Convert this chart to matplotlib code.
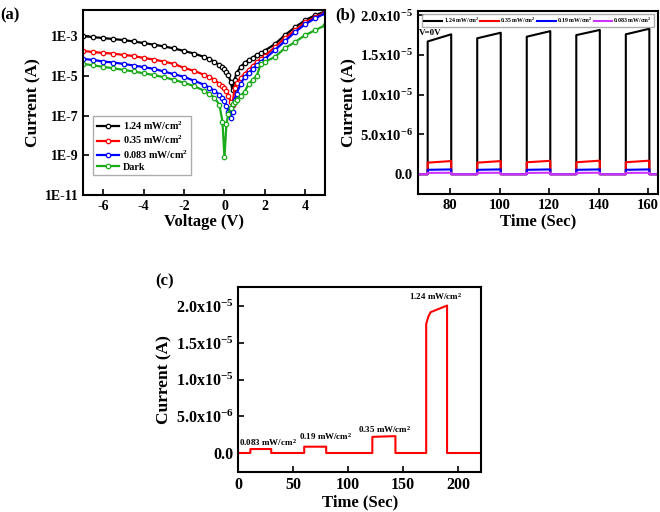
import numpy as np
import matplotlib
matplotlib.use("Agg")
import matplotlib.pyplot as plt

plt.rcParams['font.family'] = ['Liberation Serif', 'DejaVu Serif']
plt.rcParams['font.weight'] = 'bold'
plt.rcParams['axes.labelweight'] = 'bold'
plt.rcParams['axes.unicode_minus'] = False
plt.rcParams['mathtext.fontset'] = 'custom'
plt.rcParams['mathtext.rm'] = 'Liberation Serif:bold'
plt.rcParams['mathtext.bf'] = 'Liberation Serif:bold'
plt.rcParams['mathtext.default'] = 'bf'

# ---- (a) I-V curves, log10 of current ----
volt = [-7, -6.5, -6, -5.5, -5, -4.5, -4, -3.5, -3, -2.5, -2, -1.5, -1, -0.75, -0.5,
        -0.25, -0.1, 0, 0.1, 0.2, 0.3, 0.4, 0.5, 0.6, 0.8, 1.0, 1.2, 1.4, 1.6, 1.8,
        2.0, 2.5, 3.0, 3.5, 4.0, 4.5, 5.0]
log_i_124 = [-3.0, -3.05, -3.1, -3.15, -3.2, -3.27, -3.35, -3.43, -3.52, -3.62, -3.75,
             -3.88, -4.05, -4.15, -4.3, -4.45, -4.55, -4.65, -4.8, -4.95, -5.3, -5.7,
             -5.2, -4.85, -4.55, -4.35, -4.2, -4.08, -3.95, -3.85, -3.73, -3.4, -2.95,
             -2.55, -2.2, -1.95, -1.75]
log_i_035 = [-3.75, -3.8, -3.85, -3.88, -3.95, -4.0, -4.1, -4.18, -4.28, -4.4, -4.6,
             -4.75, -4.95, -5.05, -5.2, -5.4, -5.5, -5.6, -5.75, -6.0, -6.3, -6.45,
             -5.6, -5.35, -5.1, -4.9, -4.7, -4.5, -4.3, -4.15, -4.0, -3.55, -3.1,
             -2.7, -2.3, -2.05, -1.8]
log_i_0083 = [-4.15, -4.2, -4.28, -4.33, -4.4, -4.48, -4.56, -4.65, -4.78, -4.92, -5.05,
              -5.25, -5.45, -5.6, -5.75, -5.95, -6.1, -6.25, -6.5, -6.8, -7.1, -6.8,
              -6.2, -5.9, -5.4, -5.05, -4.85, -4.65, -4.45, -4.3, -4.15, -3.7, -3.25,
              -2.8, -2.4, -2.1, -1.85]
log_i_dark = [-4.4, -4.47, -4.55, -4.62, -4.7, -4.78, -4.87, -4.96, -5.07, -5.2, -5.35,
              -5.52, -5.75, -5.9, -6.1, -6.45, -7.3, -9.1, -7.4, -6.9, -6.6, -6.4,
              -6.3, -6.2, -6.0, -5.8, -5.4, -5.2, -5.0, -4.4, -4.3, -4.05, -3.6,
              -3.3, -2.95, -2.7, -2.45]
iv_labels = ["1.24 mW/cm$^2$", "0.35 mW/cm$^2$", "0.083 mW/cm$^2$", "Dark"]
iv_colors = ["black", "red", "blue", "#1aaa1a"]
a_yticks = [1e-11, 1e-9, 1e-7, 1e-5, 1e-3]
a_yticklabels = ["1E-11", "1E-9", "1E-7", "1E-5", "1E-3"]

# ---- (b) on/off cycles at V=0 ----
t_b = [67, 71, 71, 80.5, 80.5, 91, 91, 100.5, 100.5, 111, 111, 120.5, 120.5,
       131, 131, 140.5, 140.5, 151, 151, 160.5, 160.5, 164]
i_b_124 = [0, 0, 1.67e-5, 1.76e-5, 0, 0, 1.71e-5, 1.78e-5, 0, 0, 1.73e-5, 1.80e-5, 0,
           0, 1.75e-5, 1.815e-5, 0, 0, 1.76e-5, 1.83e-5, 0, 0]
i_b_035 = [0, 0, 1.45e-6, 1.65e-6, 0, 0, 1.45e-6, 1.65e-6, 0, 0, 1.5e-6, 1.68e-6, 0,
           0, 1.5e-6, 1.7e-6, 0, 0, 1.5e-6, 1.7e-6, 0, 0]
i_b_019 = [0, 0, 5.5e-7, 6.0e-7, 0, 0, 5.5e-7, 6.0e-7, 0, 0, 5.5e-7, 6.0e-7, 0,
           0, 5.5e-7, 6.0e-7, 0, 0, 5.5e-7, 6.0e-7, 0, 0]
i_b_0083 = [0, 0, 1.6e-7, 1.8e-7, 0, 0, 1.6e-7, 1.8e-7, 0, 0, 1.6e-7, 1.8e-7, 0,
            0, 1.6e-7, 1.8e-7, 0, 0, 1.6e-7, 1.8e-7, 0, 0]
b_labels = ["1.24 mW/cm$^2$", "0.35 mW/cm$^2$", "0.19 mW/cm$^2$", "0.083 mW/cm$^2$"]
b_colors = ["black", "red", "blue", "#cc33ff"]

# ---- (c) increasing intensity ----
t_c = [0, 11, 11, 30, 30, 60, 60, 80, 80, 122, 122, 143, 143, 171, 171, 173, 175,
       180, 190, 190, 220]
i_c = [0, 0, 5.4e-7, 5.4e-7, 0, 0, 8.6e-7, 8.6e-7, 0, 0, 2.2e-6, 2.3e-6, 0, 0,
       1.76e-5, 1.86e-5, 1.92e-5, 1.95e-5, 2.01e-5, 0, 0]
c_labels = ["0.083 mW/cm$^2$", "0.19 mW/cm$^2$", "0.35 mW/cm$^2$", "1.24 mW/cm$^2$"]
c_label_x = [1, 55.5, 133, 180]
c_label_y = [1.4e-6, 2.2e-6, 3.2e-6, 2.13e-5]

lin_ticks = [0, 5e-6, 1e-5, 1.5e-5, 2e-5]
lin_ticklabels = ["0.0", "5.0x10$^{-6}$", "1.0x10$^{-5}$", "1.5x10$^{-5}$", "2.0x10$^{-5}$"]

fig = plt.figure(figsize=(6.6, 5.12), dpi=100)


def style(ax, fs):
    for s in ax.spines.values():
        s.set_linewidth(1.5)
    ax.tick_params(direction='in', width=1.2, length=4, labelsize=fs)
    for lab in ax.get_xticklabels() + ax.get_yticklabels():
        lab.set_fontweight('bold')


# panel a
ax1 = fig.add_axes([0.126, 0.619, 0.367, 0.361])
curves = [log_i_124, log_i_035, log_i_0083, log_i_dark]
for logs, lab, col in zip(curves, iv_labels, iv_colors):
    ax1.plot(volt, 10 ** np.array(logs), '-o', color=col, lw=1.6, ms=3.2,
             mfc='white', mew=0.9, label=lab)
ax1.set_yscale('log')
ax1.set_xlim(-7, 5)
ax1.set_ylim(1e-11, 2e-2)
ax1.set_yticks(a_yticks)
ax1.set_yticklabels(a_yticklabels)
ax1.minorticks_off()
ax1.set_xticks([-6, -4, -2, 0, 2, 4])
ax1.set_xlabel("Voltage (V)", fontsize=12, labelpad=1)
ax1.set_ylabel("Current (A)", fontsize=12.5, labelpad=2)
style(ax1, 10)
ax1.legend(loc='lower left', bbox_to_anchor=(0.02, 0.08), frameon=True,
           fancybox=False, edgecolor='#999999', handlelength=2.2,
           borderpad=0.35, labelspacing=0.2, handletextpad=0.4,
           prop={'weight': 'bold', 'size': 7.3})
fig.text(0.0, 0.985, "(a)", fontsize=12, fontweight='bold', va='top')

# panel b
ax2 = fig.add_axes([0.633, 0.621, 0.364, 0.357])
series_b = [i_b_124, i_b_035, i_b_019, i_b_0083]
for vals, lab, col in zip(series_b, b_labels, b_colors):
    ax2.plot(t_b, vals, color=col, lw=1.5, label=lab)
ax2.set_xlim(67, 164)
ax2.set_ylim(-2.5e-6, 2.05e-5)
ax2.set_xticks([80, 100, 120, 140, 160])
ax2.set_yticks(lin_ticks)
ax2.set_yticklabels(lin_ticklabels)
ax2.set_xlabel("Time (Sec)", fontsize=12, labelpad=1)
ax2.set_ylabel("Current (A)", fontsize=12.5, labelpad=2)
style(ax2, 10.5)
ax2.legend(loc='upper center', bbox_to_anchor=(0.5, 1.0), ncol=4,
           frameon=True, fancybox=False, edgecolor='#999999', handlelength=3.2,
           columnspacing=0.2, handletextpad=0.2, borderpad=0.3,
           prop={'weight': 'bold', 'size': 4.2})
ax2.text(0.005, 0.86, "V=0V", transform=ax2.transAxes, fontsize=6.5,
         fontweight='bold', va='bottom')
fig.text(0.508, 0.985, "(b)", fontsize=12, fontweight='bold', va='top')

# panel c
ax3 = fig.add_axes([0.361, 0.078, 0.368, 0.361])
ax3.plot(t_c, i_c, color='red', lw=1.5)
for lab, x, y in zip(c_labels, c_label_x, c_label_y):
    ha = 'left' if x < 100 else 'center'
    ax3.text(x, y, lab, fontsize=6.5, fontweight='bold', ha=ha, va='center')
ax3.set_xlim(0, 221)
ax3.set_ylim(-2.6e-6, 2.26e-5)
ax3.set_xticks([0, 50, 100, 150, 200])
ax3.set_yticks(lin_ticks)
ax3.set_yticklabels(lin_ticklabels)
ax3.set_xlabel("Time (Sec)", fontsize=12, labelpad=1)
ax3.set_ylabel("Current (A)", fontsize=12.5, labelpad=2)
style(ax3, 11.5)
fig.text(0.235, 0.467, "(c)", fontsize=12, fontweight='bold', va='top')

fig.savefig("out.png", dpi=100)
